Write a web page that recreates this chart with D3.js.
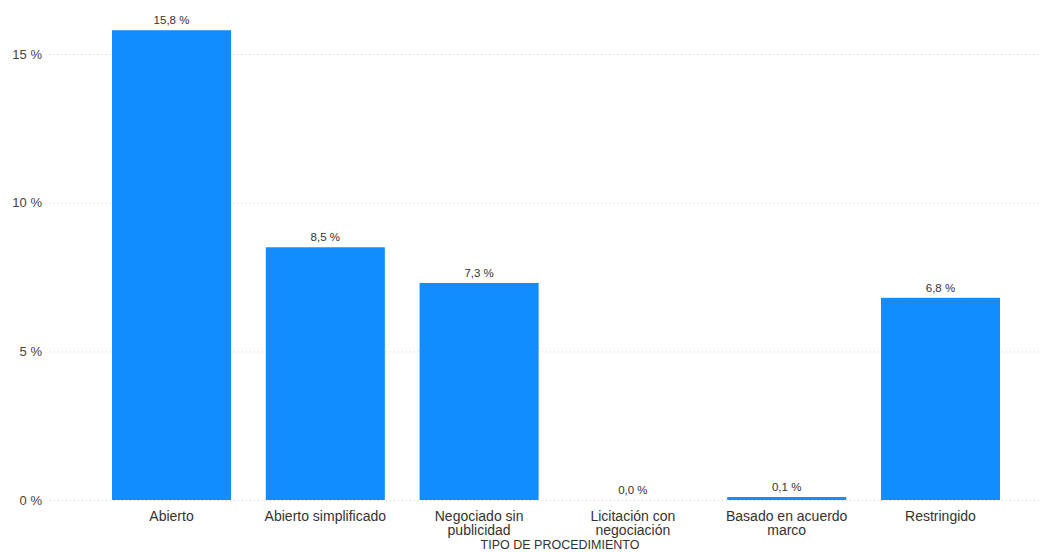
<!DOCTYPE html>
<html>
<head>
<meta charset="utf-8">
<script src="https://cdn.jsdelivr.net/npm/d3@7"></script>
<style>
  body { margin: 0; background: #fff; }
  text { font-family: "Liberation Sans", Arial, sans-serif; }
</style>
</head>
<body>
<script>
// datos del grafico
const categorias = ["Abierto", "Abierto simplificado", "Negociado sin publicidad",
  "Licitación con negociación", "Basado en acuerdo marco", "Restringido"];
const lineas = [["Abierto"], ["Abierto simplificado"], ["Negociado sin", "publicidad"],
  ["Licitación con", "negociación"], ["Basado en acuerdo", "marco"], ["Restringido"]];
const valores = [15.8, 8.5, 7.3, 0.0, 0.1, 6.8];
const ticks = [0, 5, 10, 15];

const W = 1047, H = 552;
const svg = d3.select("body").append("svg")
  .attr("width", W)
  .attr("height", H);

const y = d3.scaleLinear().domain([0, 15]).range([500, 54]);
const x = d3.scaleBand().domain(categorias).range([112, 1000])
  .paddingInner(0.226).paddingOuter(0);

const fmt = v => d3.format(".1f")(v).replace(".", ",") + " %";

// rejilla
svg.append("g").selectAll("line")
  .data(ticks)
  .enter()
  .append("line")
  .attr("x1", 50)
  .attr("x2", 1040)
  .attr("y1", d => y(d) + 0.5)
  .attr("y2", d => y(d) + 0.5)
  .attr("stroke", "#d4d4d4")
  .attr("stroke-width", 1)
  .attr("stroke-dasharray", "1,3");

svg.append("g").selectAll("text")
  .data(ticks)
  .enter()
  .append("text")
  .attr("x", 42)
  .attr("y", d => y(d))
  .attr("dy", "0.35em")
  .attr("text-anchor", "end")
  .attr("font-size", 13)
  .attr("fill", "#444")
  .text(d => d + " %");

// barras
svg.append("g").selectAll("rect")
  .data(valores)
  .enter()
  .append("rect")
  .attr("x", (d, i) => x(categorias[i]))
  .attr("width", x.bandwidth())
  .attr("y", d => y(d))
  .attr("height", d => y(0) - y(d))
  .attr("fill", "#118DFF");

svg.append("g").selectAll("text")
  .data(valores)
  .enter()
  .append("text")
  .attr("x", (d, i) => x(categorias[i]) + x.bandwidth() / 2)
  .attr("y", d => y(d) - 6)
  .attr("text-anchor", "middle")
  .attr("font-size", 11.5)
  .attr("fill", "#333")
  .text(d => fmt(d));

// etiquetas eje x
const xl = svg.append("g").selectAll("text")
  .data(lineas)
  .enter()
  .append("text")
  .attr("x", (d, i) => x(categorias[i]) + x.bandwidth() / 2)
  .attr("y", 521)
  .attr("text-anchor", "middle")
  .attr("font-size", 14)
  .attr("fill", "#333");

xl.selectAll("tspan")
  .data(d => d)
  .enter()
  .append("tspan")
  .attr("x", function () { return d3.select(this.parentNode).attr("x"); })
  .attr("dy", (d, i) => i === 0 ? 0 : 14)
  .text(d => d);

svg.append("text")
  .attr("x", 560)
  .attr("y", 549)
  .attr("text-anchor", "middle")
  .attr("font-size", 12.5)
  .attr("fill", "#333")
  .text("TIPO DE PROCEDIMIENTO");
</script>
</body>
</html>
